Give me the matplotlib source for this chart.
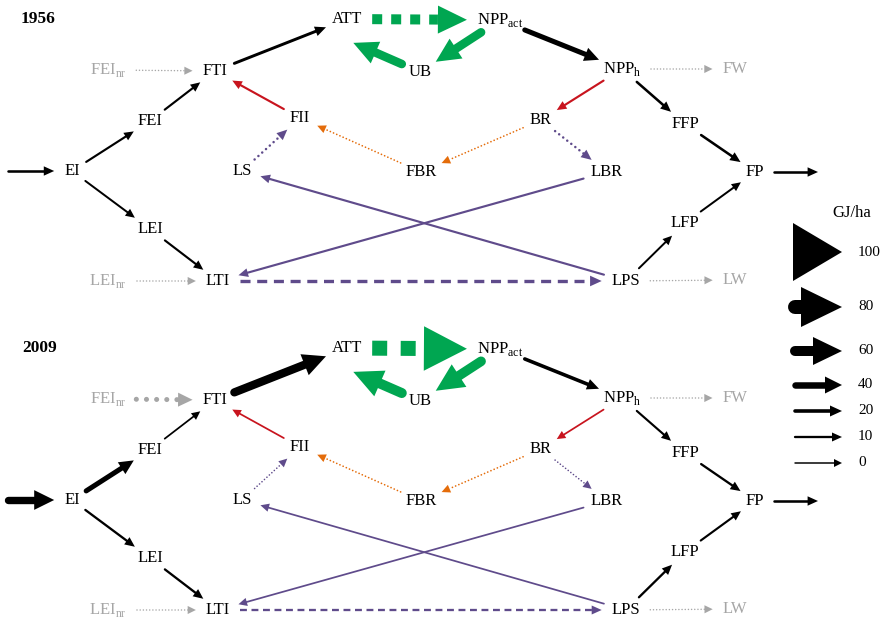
import matplotlib
matplotlib.use('Agg')
import matplotlib.pyplot as plt
from matplotlib.patches import Polygon
import numpy as np

plt.rcParams['font.family'] = ['Liberation Serif', 'DejaVu Serif']
plt.rcParams['mathtext.fontset'] = 'custom'
plt.rcParams['mathtext.rm'] = 'Liberation Serif'

# ---- diagram data ----
years = ['1956', '2009']

node_names = ['ATT', 'NPPact', 'UB', 'FEInr', 'FTI', 'NPPh', 'FW', 'FEI', 'FII', 'BR', 'FFP',
              'EI', 'LS', 'FBR', 'LBR', 'FP', 'LEI', 'LFP', 'LEInr', 'LTI', 'LPS', 'LW']
node_labels = ['ATT', r'NPP$_\mathregular{act}$', 'UB', r'FEI$_\mathregular{nr}$', 'FTI',
               r'NPP$_\mathregular{h}$', 'FW', 'FEI', 'FII', 'BR', 'FFP',
               'EI', 'LS', 'FBR', 'LBR', 'FP', 'LEI', 'LFP', r'LEI$_\mathregular{nr}$', 'LTI', 'LPS', 'LW']
gray_nodes = ['FEInr', 'FW', 'LEInr', 'LW']

# flows: source -> target, GJ/ha per year
edge_src = ['in', 'EI', 'EI', 'FEI', 'LEI', 'FEInr', 'LEInr', 'FTI', 'ATT', 'NPPact', 'UB',
            'NPPact', 'NPPh', 'NPPh', 'NPPh', 'FFP', 'FP', 'BR', 'FBR', 'FII', 'LS', 'BR',
            'LBR', 'LPS', 'LTI', 'LPS', 'LFP', 'LPS']
edge_dst = ['EI', 'FEI', 'LEI', 'FTI', 'LTI', 'FTI', 'LTI', 'ATT', 'NPPact', 'UB', 'ATT',
            'NPPh', 'FW', 'BR', 'FFP', 'FP', 'out', 'FBR', 'FII', 'FTI', 'FII', 'LBR',
            'LTI', 'LS', 'LPS', 'LFP', 'FP', 'LW']
flow_1956 = [12, 8, 6, 8, 8, 1, 1, 15, 60, 52, 52,
             30, 1, 8, 12, 12, 12, 3, 3, 8, 12, 12,
             8, 8, 18, 6, 6, 1]
flow_2009 = [45, 30, 10, 3, 10, 30, 1, 50, 85, 58, 60,
             20, 1, 3, 8, 10, 12, 3, 3, 3, 2, 2,
             3, 3, 10, 10, 8, 1]
edge_color = ['k', 'k', 'k', 'k', 'k', 'gray', 'gray', 'k', 'green', 'green', 'green',
              'k', 'gray', 'red', 'k', 'k', 'k', 'orange', 'orange', 'red', 'purple', 'purple',
              'purple', 'purple', 'purple', 'k', 'k', 'gray']
edge_style = ['solid', 'solid', 'solid', 'solid', 'solid', 'dotted', 'dotted', 'solid', 'square', 'solid', 'solid',
              'solid', 'dotted', 'solid', 'solid', 'solid', 'solid', 'dotted', 'dotted', 'solid', 'dotted', 'dotted',
              'solid', 'solid', 'dashed', 'solid', 'solid', 'dotted']

legend_vals = [100, 80, 60, 40, 20, 10, 0]

# ---- layout (pixel positions) ----
node_xy = {'ATT': (347, 19), 'NPPact': (500, 20), 'UB': (420, 72), 'FEInr': (108, 70),
           'FTI': (215, 71), 'NPPh': (622, 69), 'FW': (735, 69), 'FEI': (150, 121),
           'FII': (300, 118), 'BR': (541, 120), 'FFP': (685, 124), 'EI': (72, 171),
           'LS': (242, 171), 'FBR': (421, 172), 'LBR': (607, 172), 'FP': (755, 172),
           'LEI': (150, 229), 'LFP': (685, 223), 'LEInr': (108, 281), 'LTI': (218, 281),
           'LPS': (626, 281), 'LW': (735, 280), 'in': (8, 171), 'out': (818, 172)}
# arrows that aim beside a label rather than at its centre
aim_shift = {('UB', 'ATT'): (-14, 15)}
year_xy = [(38, 19), (40, 348)]
panel_dy = [0, 329]

colors = {'k': '#000000', 'gray': '#a6a6a6', 'green': '#00a651', 'red': '#c8141e',
          'orange': '#e46c0a', 'purple': '#5f4b8b'}

# arrow size scale (px) taken from the legend
scale_vals = [0, 10, 20, 40, 60, 80, 100]
shaft_px = [1.5, 2.3, 3.6, 6.5, 10, 14, 18]
head_w_px = [8, 9, 11, 17, 28, 40, 58]
head_l_px = [8, 10, 12, 17, 29, 41, 49]

dash_map = {'solid': '-', 'dotted': (0, (0.01, 2.0)), 'dashed': (0, (3, 2)),
            'square': (0, (1, 0.9))}


def draw_arrow(ax, p0, p1, val, color, style):
    w = np.interp(val, scale_vals, shaft_px)
    hw = np.interp(val, scale_vals, head_w_px)
    hl = np.interp(val, scale_vals, head_l_px)
    p0, p1 = np.asarray(p0, float), np.asarray(p1, float)
    d = p1 - p0
    L = np.hypot(*d)
    u = d / L
    n = np.array([-u[1], u[0]])
    base = p1 - u * hl
    if L > hl:
        end = base + u * (1.0 if style == 'solid' else 0)
        cap = 'round' if style in ('solid', 'dotted') else 'butt'
        ax.plot([p0[0], end[0]], [p0[1], end[1]], color=color, lw=w * 0.72,
                linestyle=dash_map[style], solid_capstyle=cap, dash_capstyle=cap)
    ax.add_patch(Polygon([p1, base + n * hw / 2, base - n * hw / 2], closed=True,
                         fc=color, ec='none'))


fig = plt.figure(figsize=(8.82, 6.19), dpi=100)
ax = fig.add_axes([0, 0, 1, 1])
ax.set_xlim(0, 882)
ax.set_ylim(619, 0)
ax.axis('off')

# labels
texts = {}
for yi, year in enumerate(years):
    dy = panel_dy[yi]
    ax.text(*year_xy[yi], year, ha='center', va='center', fontsize=12.5, fontweight='bold')
    for name, lab in zip(node_names, node_labels):
        x, y = node_xy[name]
        col = colors['gray'] if name in gray_nodes else 'black'
        t = ax.text(x, y + dy, lab, ha='center', va='center', fontsize=12, color=col)
        if yi == 0:
            texts[name] = t

fig.canvas.draw()
renderer = fig.canvas.get_renderer()
half_w = {k: t.get_window_extent(renderer).width / 2 for k, t in texts.items()}


def port(name, direction, dy, shift=(0, 0)):
    x, y = node_xy[name]
    c = np.array([x + shift[0], y + dy + shift[1]], float)
    if name not in half_w:
        return c
    a, b = half_w[name] + 10, 15.0
    t = 1 / np.sqrt((direction[0] / a) ** 2 + (direction[1] / b) ** 2)
    return c + direction * t


for yi, flows in enumerate([flow_1956, flow_2009]):
    dy = panel_dy[yi]
    for s, e, v, c, st in zip(edge_src, edge_dst, flows, edge_color, edge_style):
        sh = aim_shift.get((s, e), (0, 0))
        d = np.add(np.subtract(node_xy[e], node_xy[s]), sh).astype(float)
        u = d / np.hypot(*d)
        p0 = port(s, u, dy)
        p1 = port(e, -u, dy, sh)
        draw_arrow(ax, p0, p1, v, colors[c], st)

# legend
ax.text(852, 213, 'GJ/ha', ha='center', va='center', fontsize=12)
legend_y = [252, 307, 351, 385, 411, 437, 463]
for v, y in zip(legend_vals, legend_y):
    draw_arrow(ax, (795, y), (842, y), v, 'black', 'solid')
    ax.text(858, y, str(v), ha='left', va='center', fontsize=11)

fig.savefig('out.png', dpi=100)
